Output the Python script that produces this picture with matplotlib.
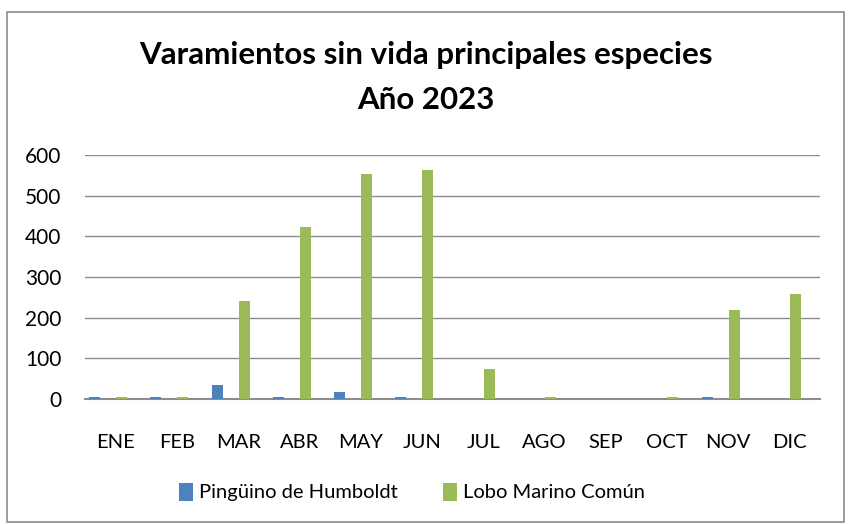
import matplotlib
matplotlib.use("Agg")
import matplotlib.pyplot as plt
import numpy as np
from matplotlib.patches import Rectangle

months = ["ENE", "FEB", "MAR", "ABR", "MAY", "JUN", "JUL", "AGO", "SEP", "OCT", "NOV", "DIC"]
pinguino = [5, 5, 35, 5, 17, 5, 0, 0, 0, 0, 5, 0]
lobo = [5, 5, 240, 422, 553, 563, 73, 5, 0, 5, 220, 258]
yticks = [0, 100, 200, 300, 400, 500, 600]

plt.rcParams['font.family'] = ['Lato', 'DejaVu Sans']

fig = plt.figure(figsize=(8.51, 5.24), dpi=100)
fig.patches.append(Rectangle((7/851, 2/524), 837/851, 510/524, transform=fig.transFigure,
                             fill=False, edgecolor='#8c8c8c', linewidth=1.2))
ax = fig.add_axes([85/851, 1 - 399/524, 735/851, 244/524])

x = np.arange(len(months))
w = 0.18
ax.bar(x - 0.343, pinguino, w, color='#4f81bd', label='Pingüino de Humboldt', zorder=3)
ax.bar(x + 0.098, lobo, w, color='#9bbb59', label='Lobo Marino Común', zorder=3)

ax.set_xlim(-0.5, len(months) - 0.5)
ax.set_ylim(0, 600)
ax.set_yticks(yticks)
ax.set_yticklabels([str(t) for t in yticks], fontsize=15)
ax.set_xticks(x)
ax.set_xticklabels(months, fontsize=14.5)
ax.tick_params(axis='both', length=0)
ax.tick_params(axis='x', pad=25)
ax.tick_params(axis='y', pad=17)
ax.grid(axis='y', color='#8c8c8c', linewidth=1, zorder=0)
for s in ['top', 'right', 'left']:
    ax.spines[s].set_visible(False)
ax.spines['bottom'].set_color('#8c8c8c')
ax.spines['bottom'].set_linewidth(1.5)

fig.text(0.5, 1 - 55/524, "Varamientos sin vida principales especies", ha='center', va='center',
         fontsize=22.5, fontweight='bold')
fig.text(0.5, 1 - 100/524, "Año 2023", ha='center', va='center', fontsize=22.5, fontweight='bold')

leg = fig.legend(loc='center', bbox_to_anchor=(412/851, 1 - 492/524), ncol=2, frameon=False,
                 fontsize=14.5, handlelength=0.7, handleheight=1.0, columnspacing=2.2, handletextpad=0.3)

fig.savefig("out.png", dpi=100)
